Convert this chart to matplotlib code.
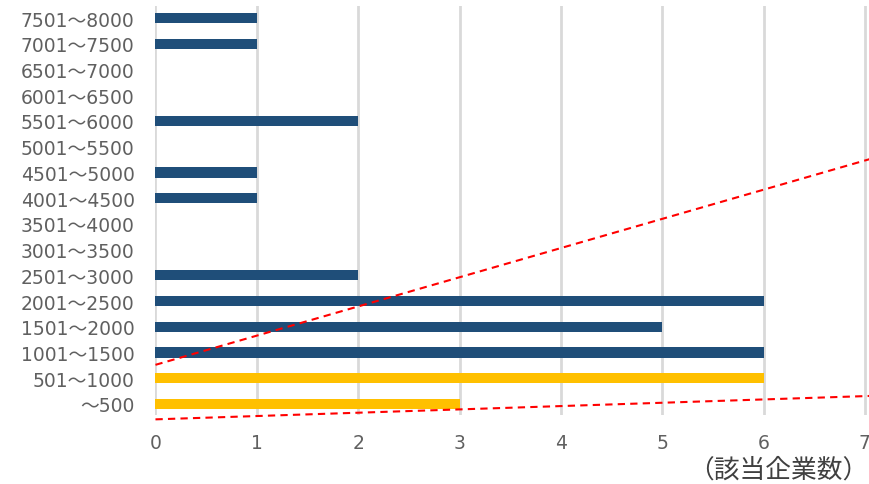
import numpy as np
import matplotlib.pyplot as plt

plt.rcParams['font.family'] = ['DejaVu Sans', 'Noto Sans CJK JP']

# 売上規模（百万円）ごとの該当企業数
ranges = ['～500', '501～1000', '1001～1500', '1501～2000', '2001～2500',
          '2501～3000', '3001～3500', '3501～4000', '4001～4500', '4501～5000',
          '5001～5500', '5501～6000', '6001～6500', '6501～7000', '7001～7500',
          '7501～8000']
counts = [3, 6, 6, 5, 6, 2, 0, 0, 1, 1, 0, 2, 0, 0, 1, 1]
highlight = [True, True] + [False] * 14

navy = '#1F4E79'
gold = '#FFC000'
colors = [gold if h else navy for h in highlight]

fig = plt.figure(figsize=(8.7, 4.85), dpi=100)
ax = fig.add_axes([0.1787, 0.1423, 0.8213, 0.8433])

y = np.arange(len(ranges))
ax.barh(y, counts, height=0.4, color=colors, zorder=3)

ax.set_xlim(0, 7.05)
ax.set_ylim(-0.43, 15.47)
ax.set_xticks(range(8))
ax.set_yticks(y)
ax.set_yticklabels(ranges)

ax.grid(axis='x', color='#D9D9D9', linewidth=2, zorder=0)
for s in ax.spines.values():
    s.set_visible(False)
ax.tick_params(axis='both', length=0, colors='#606060', labelsize=13.5)
ax.tick_params(axis='y', pad=15)
ax.tick_params(axis='x', pad=13)

# 赤い破線（補助線）
ax.plot([0, 7.05], [1.52, 9.52], color='red', lw=1.5, dashes=(3.5, 2.5),
        clip_on=False, zorder=4)
ax.plot([0, 7.05], [-0.6, 0.31], color='red', lw=1.5, dashes=(3.5, 2.5),
        clip_on=False, zorder=4)

fig.text(0.998, 0.002, '（該当企業数）', ha='right', va='bottom',
         fontsize=18.5, color='#404040', family=['Noto Sans CJK JP'])

fig.savefig('out.png', dpi=100)
